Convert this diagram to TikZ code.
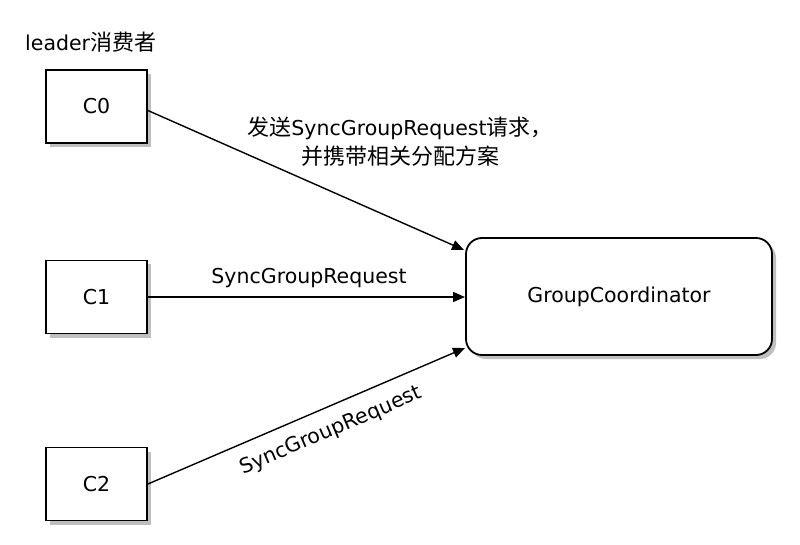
\documentclass[tikz,border=0pt]{standalone}
\usepackage{fontspec}
\setmainfont{DejaVu Sans}
\newfontfamily\cjk{Noto Sans CJK SC}
\usetikzlibrary{shadows,arrows.meta,calc}
\begin{document}
\begin{tikzpicture}[x=1pt,y=-1pt,
  every node/.style={font=\fontsize{20.5}{29}\selectfont},
  shad/.style={drop shadow={shadow xshift=4pt,shadow yshift=-4pt,opacity=0.5,fill=black!50}},
  client/.style={draw=black,line width=1.8pt,fill=white,minimum width=101pt,minimum height=73pt,inner sep=0pt,shad},
  coord/.style={draw=black,line width=1.8pt,fill=white,rounded corners=16pt,minimum width=306pt,minimum height=117pt,inner sep=0pt,shad},
  msg/.style={draw=black,line width=1.4pt,-{Triangle[length=12pt,width=10pt]}},
  lbl/.style={inner sep=0pt}]
\useasboundingbox (0,0) rectangle (800,545);
\node[lbl,anchor=west] (lead) at (25,42) {leader{\cjk\fontsize{22}{29}\selectfont 消费者}};
\node[client] (c0) at (96.5,106.5) {C0};
\node[client] (c1) at (96.5,297) {C1};
\node[client] (c2) at (96.5,484) {C2};
\node[coord] (gc) at (619,296.5) {GroupCoordinator};
\coordinate (e0) at (464,250);
\coordinate (e1) at (465,297);
\coordinate (e2) at (465,348);
\coordinate (s0) at ($(c0.east)+(0,4)$);
\draw[msg] (s0) -- (e0);
\draw[msg] (c1.east) -- (e1);
\draw[msg] (c2.east) -- (e2);
\node[lbl,align=center] (t0) at (400,142) {{\cjk\fontsize{22}{29}\selectfont 发送}SyncGroupRequest{\cjk\fontsize{22}{29}\selectfont 请求，}\\{\cjk\fontsize{22}{29}\selectfont 并携带相关分配方案}};
\node[lbl] (t1) at (309,278) {SyncGroupRequest};
\node[lbl,rotate=23.2] (t2) at (331,431) {SyncGroupRequest};
\end{tikzpicture}
\end{document}
